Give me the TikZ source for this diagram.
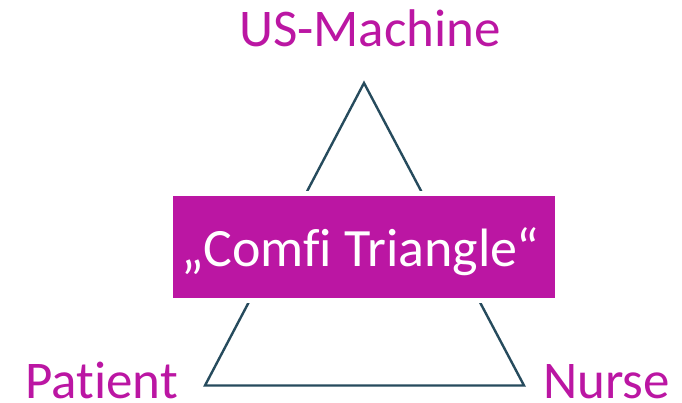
\documentclass[tikz,border=0pt]{standalone}
\usepackage{fontspec}
\setmainfont[Ligatures=CommonOff]{Carlito}
\definecolor{mag}{HTML}{BB16A3}
\definecolor{tri}{HTML}{264B5D}
\tikzset{lab/.style={text=mag,font=\fontsize{53}{60}\selectfont,inner sep=0pt,anchor=base},
banner/.style={fill=mag,minimum width=382pt,minimum height=102pt,inner sep=0pt,preaction={draw=white,line width=9.5pt}},
bannertext/.style={text=white,font=\fontsize{54}{60}\selectfont,inner sep=0pt,anchor=base}}
\begin{document}
\begin{tikzpicture}[x=1pt,y=-1pt]
\useasboundingbox (0,0) rectangle (682,403);
\fill[white] (0,0) rectangle (682,403);
\coordinate (top) at (364,83);
\coordinate (left) at (205,385.5);
\coordinate (right) at (524,385.5);
\draw[tri,line width=2.4pt,line join=miter] (top) -- (left) -- (right) -- cycle;
\node[banner] (b) at (364,247) {};
\node[bannertext] (t) at (360.5,266) {„Comfi Triangle“};
\node[lab] (u) at (370,47) {US-Machine};
\node[lab] (p) at (101.5,398.5) {Patient};
\node[lab] (n) at (606.5,398.5) {Nurse};
\end{tikzpicture}
\end{document}
